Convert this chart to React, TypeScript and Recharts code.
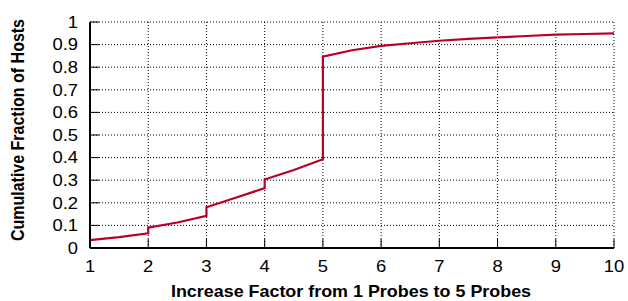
import React from "react";
import { LineChart, Line, XAxis, YAxis, CartesianGrid, Label } from "recharts";

// CDF of increase factor (1 probe -> 5 probes), steps at integer factors
const factors = [1, 1.5, 2, 2, 2.5, 3, 3, 3.5, 4, 4, 4.5, 5, 5, 5.5, 6, 6.5, 7, 7.5, 8, 8.5, 9, 9.5, 10];
const fractions = [0.035, 0.048, 0.065, 0.09, 0.113, 0.142, 0.18, 0.222, 0.265, 0.303, 0.345, 0.393, 0.847, 0.875, 0.894, 0.906, 0.917, 0.925, 0.932, 0.938, 0.944, 0.947, 0.95];
const xTicks = [1, 2, 3, 4, 5, 6, 7, 8, 9, 10];
const yTicks = [0, 0.1, 0.2, 0.3, 0.4, 0.5, 0.6, 0.7, 0.8, 0.9, 1];

const data = factors.map((x, i) => ({ x, y: fractions[i] }));

const FONT = "'Liberation Sans', Arial, Helvetica, sans-serif";
const LINE = "#b8002a";
const SX = 1.15; // glyphs in the original look a bit wide

function YTick(props: any) {
  const { x, y, payload } = props;
  return (
    <g>
      <line x1={x + 12} y1={y} x2={x + 21} y2={y} stroke="#000" strokeWidth={1} />
      <text transform={`translate(${x},${y}) scale(${SX},1)`} dy="0.36em" textAnchor="end" fontSize={16} fill="#000" fontFamily={FONT}>
        {payload.value}
      </text>
    </g>
  );
}

function XTick(props: any) {
  const { x, y, payload } = props;
  return (
    <g>
      <line x1={x} y1={y - 12} x2={x} y2={y - 21} stroke="#000" strokeWidth={1} />
      <text transform={`translate(${x},${y}) scale(${SX},1)`} dy="0.72em" textAnchor="middle" fontSize={16} fill="#000" fontFamily={FONT}>
        {payload.value}
      </text>
    </g>
  );
}

export default function App() {
  return (
    <div style={{ position: "fixed", left: 0, top: 0, background: "#fff" }}>
      <LineChart width={628} height={301} data={data} margin={{ top: 22, right: 14, left: 0, bottom: 0 }}>
        <CartesianGrid stroke="#000" strokeDasharray="1 2" strokeWidth={1} horizontalValues={yTicks} verticalValues={xTicks} />
        <XAxis
          dataKey="x"
          type="number"
          domain={[1, 10]}
          ticks={xTicks}
          interval={0}
          tick={<XTick />}
          tickLine={false}
          tickSize={0}
          tickMargin={12}
          axisLine={{ stroke: "#000", strokeWidth: 2 }}
          height={53}
        >
          <Label
            content={() => (
              <text transform="translate(351,291) scale(1.12,1)" dy="0.36em" textAnchor="middle" fontSize={16} fontWeight="bold" fill="#000" fontFamily={FONT}>
                Increase Factor from 1 Probes to 5 Probes
              </text>
            )}
          />
        </XAxis>
        <YAxis
          type="number"
          domain={[0, 1]}
          ticks={yTicks}
          interval={0}
          tick={<YTick />}
          tickLine={false}
          tickSize={0}
          tickMargin={12}
          axisLine={{ stroke: "#000", strokeWidth: 2 }}
          width={90}
        >
          <Label
            content={() => (
              <text transform="translate(18,130) rotate(-90) scale(1,1.12)" dy="0.36em" textAnchor="middle" fontSize={16} fontWeight="bold" fill="#000" fontFamily={FONT}>
                Cumulative Fraction of Hosts
              </text>
            )}
          />
        </YAxis>
        <Line type="linear" dataKey="y" stroke={LINE} strokeWidth={2.2} dot={false} isAnimationActive={false} />
      </LineChart>
    </div>
  );
}
